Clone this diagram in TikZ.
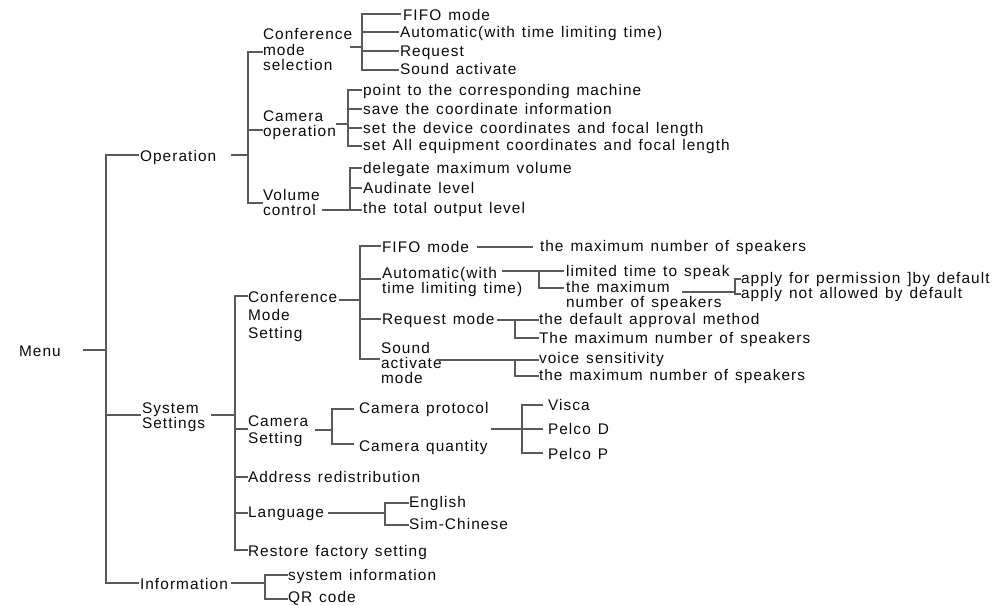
\documentclass[tikz,border=0pt]{standalone}
\usepackage{fontspec}
\setmainfont{Liberation Sans}[LetterSpace=7,WordSpace=1.3]
\usetikzlibrary{calc}
\definecolor{lc}{HTML}{5A5A5A}
\definecolor{tc}{HTML}{0A0A0A}
\newcommand\mlines[2]{{\fontsize{15.4}{#1}\selectfont\begin{tabular}[t]{@{}l@{}}#2\end{tabular}}}
\newcommand\br[3][2]{\draw[ln] (#2) -- ($(#2 -| #3.west)+(-#1,0)$);}
\begin{document}
\begin{tikzpicture}[x=1pt,y=-1pt,
  t/.style={anchor=base west,inner sep=0pt,outer sep=0pt,text=tc,font=\fontsize{15.4}{18}\selectfont},
  ln/.style={draw=lc,line width=1.2pt,line cap=rect}]
\useasboundingbox (0,0) rectangle (998,605);

% ---- text nodes ----
\node[t] (menu) at (19,356) {Menu};
\node[t] (op) at (140,161) {Operation};
\node[t] (ss) at (142,413) {\mlines{15}{System\\Settings}};
\node[t] (info) at (140,589) {Information};

\node[t] (cms) at (263,39.5) {\mlines{14.5}{Conference\\mode\\selection}};
\node[t] (camop) at (263,121) {\mlines{15}{Camera\\operation}};
\node[t] (vol) at (263,200) {\mlines{15}{Volume\\control}};

\node[t] (fifo1) at (403,20.5) {FIFO mode};
\node[t] (auto1) at (400,37) {Automatic(with time limiting time)};
\node[t] (req1) at (400,56) {Request};
\node[t] (snd1) at (400,74.5) {Sound activate};

\node[t] (pt) at (363,95) {point to the corresponding machine};
\node[t] (save) at (363,114) {save the coordinate information};
\node[t] (setdev) at (363,133) {set the device coordinates and focal length};
\node[t] (setall) at (363,150) {set All equipment coordinates and focal length};

\node[t] (dmv) at (363,173) {delegate maximum volume};
\node[t] (aud) at (363,193) {Audinate level};
\node[t] (tol) at (363,213) {the total output level};

\node[t] (cmset) at (248,302.5) {\mlines{18}{Conference\\Mode\\Setting}};
\node[t] (camset) at (248,426) {\mlines{17.5}{Camera\\Setting}};
\node[t] (addr) at (248,482.5) {Address redistribution};
\node[t] (lang) at (248,517) {Language};
\node[t] (restore) at (248,556) {Restore factory setting};

\node[t] (fifo2) at (382,252) {FIFO mode};
\node[t] (auto2) at (382,278) {\mlines{15.5}{Automatic(with\\time limiting time)}};
\node[t] (req2) at (382,324.5) {Request mode};
\node[t] (snd2) at (381,353) {\mlines{14.3}{Sound\\activate\\mode}};

\node[t] (maxf) at (540,251.5) {the maximum number of speakers};
\node[t] (lim) at (566,276) {limited time to speak};
\node[t] (maxa) at (566,292.5) {\mlines{14}{the maximum\\number of speakers}};
\node[t] (perm) at (741,283.5) {apply for permission ]by default};
\node[t] (nallow) at (741,298) {apply not allowed by default};
\node[t] (defap) at (539,324.5) {the default approval method};
\node[t] (maxr) at (539,343) {The maximum number of speakers};
\node[t] (voice) at (539,363.5) {voice sensitivity};
\node[t] (maxs) at (539,380.5) {the maximum number of speakers};

\node[t] (proto) at (359,413.5) {Camera protocol};
\node[t] (qty) at (359,451.5) {Camera quantity};
\node[t] (visca) at (548,410) {Visca};
\node[t] (pd) at (548,434.5) {Pelco D};
\node[t] (pp) at (548,459.5) {Pelco P};

\node[t] (eng) at (409,507.5) {English};
\node[t] (sim) at (409,529) {Sim-Chinese};
\node[t] (sysinfo) at (288,580) {system information};
\node[t] (qr) at (288,602.5) {QR code};

% ---- junction coordinates ----
\coordinate (m0) at (84,350); \coordinate (mm) at (106,350);
\coordinate (mt) at (106,155); \coordinate (ms) at (106,415); \coordinate (mb) at (106,583);

\coordinate (o0) at (232,155); \coordinate (oc) at (248,155);
\coordinate (ov1) at (248,52); \coordinate (ov2) at (248,130); \coordinate (ov3) at (248,203);

\coordinate (c0) at (351,47); \coordinate (cj) at (362,47);
\coordinate (c1) at (362,14); \coordinate (c2) at (362,32); \coordinate (c3) at (362,51); \coordinate (c4) at (362,70);

\coordinate (k0) at (337,124); \coordinate (kj) at (348,124);
\coordinate (k1) at (348,90); \coordinate (k2) at (348,109); \coordinate (k3) at (348,128); \coordinate (k4) at (348,146);

\coordinate (v0) at (323,210);
\coordinate (v1) at (350,168); \coordinate (v2) at (350,188); \coordinate (v3) at (350,210);

\coordinate (s0) at (212,415); \coordinate (sj) at (235,415);
\coordinate (s1) at (235,296); \coordinate (s2) at (235,429); \coordinate (s3) at (235,477);
\coordinate (s4) at (235,513); \coordinate (s5) at (235,550);

\coordinate (q0) at (340,300); \coordinate (qj) at (360,300);
\coordinate (q1) at (360,246); \coordinate (q2) at (360,279); \coordinate (q3) at (360,319); \coordinate (q4) at (360,359);

\coordinate (f0) at (478,247);
\coordinate (a0) at (503,271); \coordinate (a1) at (539,271); \coordinate (a2) at (539,288);
\coordinate (x0) at (683,292); \coordinate (xj) at (735,292);
\coordinate (x1) at (735,279); \coordinate (x2) at (735,294);
\coordinate (r0) at (498,320); \coordinate (r1) at (515,320); \coordinate (r2) at (515,338);
\coordinate (d0) at (437,360); \coordinate (d1) at (515,360); \coordinate (d2) at (515,376);

\coordinate (e0) at (316,430); \coordinate (ej) at (332,430);
\coordinate (e1) at (332,409); \coordinate (e2) at (332,444);
\coordinate (p0) at (492,429); \coordinate (pj) at (522,429);
\coordinate (p1) at (522,405); \coordinate (p3) at (522,453);

\coordinate (l0) at (329,513); \coordinate (l1) at (385,503); \coordinate (l2) at (385,525); \coordinate (lj) at (385,513);
\coordinate (i0) at (232,583); \coordinate (i1) at (265,575); \coordinate (i2) at (265,599); \coordinate (ij) at (265,583);

% ---- connectors ----
\draw[ln] (m0) -- (mm);
\draw[ln] (mt) -- (mb);
\br{mt}{op} \br{ms}{ss} \br{mb}{info}

\draw[ln] (o0) -- (oc);
\draw[ln] (ov1) -- (ov3);
\br[1]{ov1}{cms} \br[1]{ov2}{camop} \br[1]{ov3}{vol}

\draw[ln] (c0) -- (cj);
\draw[ln] (c1) -- (c4);
\br[3]{c1}{fifo1} \br{c2}{auto1} \br{c3}{req1} \br{c4}{snd1}

\draw[ln] (k0) -- (kj);
\draw[ln] (k1) -- (k4);
\br{k1}{pt} \br{k2}{save} \br{k3}{setdev} \br{k4}{setall}

\draw[ln] (v0) -- (v3);
\draw[ln] (v1) -- (v3);
\br{v1}{dmv} \br{v2}{aud} \br{v3}{tol}

\draw[ln] (s0) -- (sj);
\draw[ln] (s1) -- (s5);
\br[1]{s1}{cmset} \br[1]{s2}{camset} \br[1]{s3}{addr} \br[1]{s4}{lang} \br[1]{s5}{restore}

\draw[ln] (q0) -- (qj);
\draw[ln] (q1) -- (q4);
\br{q1}{fifo2} \br{q2}{auto2} \br{q3}{req2} \br{q4}{snd2}

\br[8]{f0}{maxf}
\draw[ln] (a0) -- (a1) -- (a2);
\br[3]{a1}{lim} \br[3]{a2}{maxa}
\draw[ln] (x0) -- (xj);
\draw[ln] (x1) -- (x2);
\br[1]{x1}{perm} \br[1]{x2}{nallow}
\draw[ln] (r0) -- (r1) -- (r2);
\br[1]{r1}{defap} \br[1]{r2}{maxr}
\draw[ln] (d0) -- (d1) -- (d2);
\br[1]{d1}{voice} \br[1]{d2}{maxs}

\draw[ln] (e0) -- (ej);
\draw[ln] (e1) -- (e2);
\br[6]{e1}{proto} \br[6]{e2}{qty}
\draw[ln] (p0) -- (pj);
\draw[ln] (p1) -- (p3);
\br[6]{p1}{visca} \br[6]{pj}{pd} \br[6]{p3}{pp}

\draw[ln] (l0) -- (lj);
\draw[ln] (l1) -- (l2);
\br[1]{l1}{eng} \br[1]{l2}{sim}

\draw[ln] (i0) -- (ij);
\draw[ln] (i1) -- (i2);
\br[1]{i1}{sysinfo} \br[1]{i2}{qr}
\end{tikzpicture}
\end{document}
